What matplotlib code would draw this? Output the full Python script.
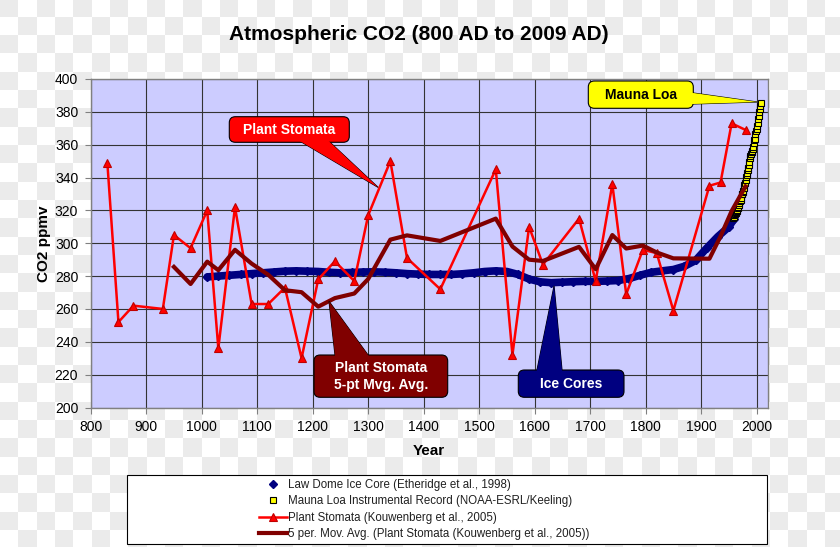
import numpy as np
import matplotlib
matplotlib.use("Agg")
import matplotlib.pyplot as plt
from matplotlib.patches import FancyBboxPatch, Polygon, Rectangle

plt.rcParams['font.family'] = ['Liberation Sans', 'DejaVu Sans']

# ---------------- data ----------------
stomata_years = [830, 850, 877, 930, 950, 980, 1010, 1030, 1060, 1090, 1120, 1150,
                 1180, 1210, 1240, 1275, 1300, 1340, 1370, 1430, 1530, 1560, 1590,
                 1615, 1680, 1710, 1740, 1765, 1795, 1820, 1850, 1915, 1935, 1955, 1980]
stomata_co2 = [349, 252, 262, 260, 305, 297, 320, 236, 322, 263, 263, 273,
               230, 278, 289, 277, 317, 350, 291, 272, 345, 232, 310,
               287, 315, 277, 336, 269, 296, 294, 259, 335, 337, 373, 369]

mavg_years = [950, 980, 1010, 1030, 1060, 1090, 1120, 1150, 1180, 1210, 1240, 1275,
              1300, 1340, 1370, 1430, 1530, 1560, 1590, 1615, 1680, 1710, 1740,
              1765, 1795, 1820, 1850, 1915, 1935, 1955, 1980]
mavg_co2 = [285.6, 275.2, 288.8, 283.6, 296.0, 287.6, 280.8, 271.4, 270.2, 261.4,
            266.6, 269.4, 278.2, 302.2, 304.8, 301.4, 315.0, 298.0, 290.0, 289.2,
            297.8, 284.2, 305.0, 296.8, 298.6, 294.4, 290.8, 290.6, 304.2, 319.6, 334.6]

ice_years = [1010, 1030, 1050, 1070, 1090, 1110, 1130, 1150, 1170, 1190, 1210, 1230,
             1250, 1270, 1290, 1310, 1330, 1350, 1370, 1390, 1410, 1430, 1450, 1470,
             1490, 1510, 1530, 1550, 1570, 1590, 1610, 1630, 1650, 1670, 1690, 1710,
             1730, 1750, 1770, 1790, 1810, 1830, 1850, 1870, 1890, 1910, 1930, 1950, 1960]
ice_co2 = [279.5, 280.0, 280.5, 281.0, 281.5, 282.0, 282.5, 283.0, 283.2, 283.0, 282.8, 282.3,
           282.0, 282.2, 282.5, 282.6, 282.4, 282.0, 281.5, 281.2, 281.0, 281.0, 281.0, 281.4,
           282.0, 282.8, 283.2, 282.8, 281.0, 278.2, 276.5, 276.0, 276.3, 276.6, 276.8, 276.8,
           277.0, 277.3, 278.5, 280.5, 282.3, 283.2, 284.0, 286.0, 289.5, 297.0, 304.0, 310.0, 315.0]

ml_years = list(range(1958, 2009))
ml_co2 = [315.3, 316.0, 316.9, 317.6, 318.5, 319.0, 319.6, 320.0, 321.4, 322.2,
          323.0, 324.6, 325.7, 326.3, 327.5, 329.7, 330.2, 331.1, 332.0, 333.8,
          335.4, 336.8, 338.7, 340.1, 341.4, 343.0, 344.6, 346.0, 347.4, 349.2,
          351.6, 353.1, 354.4, 355.6, 356.4, 357.1, 358.8, 360.8, 362.6, 363.7,
          366.7, 368.4, 369.6, 371.1, 373.2, 375.8, 377.5, 379.8, 381.9, 383.8, 385.6]

x_ticks = list(range(800, 2001, 100))
y_ticks = list(range(200, 401, 20))

labels = ["Law Dome Ice Core (Etheridge et al., 1998)",
          "Mauna Loa Instrumental Record (NOAA-ESRL/Keeling)",
          "Plant Stomata (Kouwenberg et al., 2005)",
          "5 per. Mov. Avg. (Plant Stomata (Kouwenberg et al., 2005))"]

# ---------------- figure ----------------
W, H = 840, 547
fig = plt.figure(figsize=(W / 100, H / 100), dpi=100)

# checkerboard background as in the reference
bg = fig.add_axes([0, 0, 1, 1], zorder=-10)
sq = 18.33
yy, xx = np.mgrid[0:H, 0:W] + 0.5
chk = ((np.floor((yy - 16.7) / sq) + np.floor(xx / sq)) % 2) == 1
img = np.where(chk[..., None], np.array([0.922, 0.922, 0.922]), np.array([1.0, 1.0, 1.0]))
bg.imshow(img, extent=[0, W, H, 0], aspect='auto', interpolation='nearest')
bg.set_xlim(0, W)
bg.set_ylim(H, 0)
bg.axis('off')

L, R, T, B = 90.7, 767.7, 79.0, 407.5
ax = fig.add_axes([L / W, 1 - B / H, (R - L) / W, (B - T) / H], zorder=1)
ax.set_facecolor('#ccccff')

ax.plot(ice_years, ice_co2, color='#000080', lw=5.5, zorder=3, solid_capstyle='round')
h_ice, = ax.plot(ice_years, ice_co2, ls='none', marker='D', ms=4.3, color='#000080',
                 mec='#000080', zorder=3, label=labels[0])
h_ml, = ax.plot(ml_years, ml_co2, ls='none', marker='s', ms=4.5, mfc='#ffff00',
                mec='#000000', mew=0.8, zorder=4, label=labels[1])
h_st, = ax.plot(stomata_years, stomata_co2, color='#ff0000', lw=1.8, marker='^', ms=6,
                mfc='#ff0000', mec='#c00000', mew=0.8, zorder=5, label=labels[2])
h_ma, = ax.plot(mavg_years, mavg_co2, color='#800000', lw=3.0, zorder=6, label=labels[3])

ax.set_xlim(800, 2020)
ax.set_ylim(200, 400)
ax.set_xticks(x_ticks)
ax.set_yticks(y_ticks)
ax.grid(True, color='#333333', lw=0.8)
ax.set_axisbelow(True)
for s in ax.spines.values():
    s.set_color('#808080')
    s.set_linewidth(1.0)
ax.tick_params(length=4, color='#808080', labelsize=10, pad=5, labelcolor='#000000')

fig.text(419 / W, 1 - 35 / H, "Atmospheric CO2 (800 AD to 2009 AD)", ha='center', va='center',
         fontsize=15, fontweight='bold')
fig.text(429 / W, 1 - 451 / H, "Year", ha='center', va='center', fontsize=11, fontweight='bold')
fig.text(44 / W, 1 - 244 / H, "CO2 ppmv", ha='center', va='center', rotation=90,
         fontsize=11, fontweight='bold')

# ---------------- callouts ----------------
aw, ah = R - L, B - T


def fx(px):
    return (px - L) / aw


def fy(py):
    return (B - py) / ah


def callout(box, base, tip_data, text, fc, tc, ec='#000000'):
    x0, x1, y0, y1 = fx(box[0]), fx(box[1]), fy(box[3]), fy(box[2])
    tip = ax.transLimits.transform(tip_data)
    b1 = np.array([fx(base[0][0]), fy(base[0][1])])
    b2 = np.array([fx(base[1][0]), fy(base[1][1])])
    wedge = [tip, b1, b2]
    ax.add_patch(Polygon(wedge, closed=True, fc=fc, ec=ec, lw=0.8, transform=ax.transAxes,
                         zorder=10, clip_on=False))
    ax.add_patch(FancyBboxPatch((x0, y0), x1 - x0, y1 - y0,
                                boxstyle="round,pad=0,rounding_size=0.009",
                                mutation_aspect=aw / ah, fc=fc, ec=ec, lw=0.8,
                                transform=ax.transAxes, zorder=11, clip_on=False))
    e1 = b1 + 0.12 * (b1 - tip)
    e2 = b2 + 0.12 * (b2 - tip)
    ax.add_patch(Polygon([tip, e1, e2], closed=True, fc=fc, ec='none', transform=ax.transAxes,
                         zorder=12, clip_on=False))
    ax.text((x0 + x1) / 2, (y0 + y1) / 2, text, transform=ax.transAxes, ha='center',
            va='center', color=tc, fontsize=10, fontweight='bold', zorder=13,
            linespacing=1.25)


callout((229.3, 349.3, 116.7, 142.3), ((302, 142.3), (330, 142.3)), (1318, 334),
        "Plant Stomata", '#ff0000', 'white')
callout((314, 447.7, 355, 397.3), ((335, 355), (368, 355)), (1229.5, 264.6),
        "Plant Stomata\n5-pt Mvg. Avg.", '#800000', 'white')
callout((518.3, 624, 370, 397.3), ((537, 370), (562, 370)), (1635, 274),
        "Ice Cores", '#000080', 'white')
callout((588.3, 693.3, 81, 108.3), ((693.3, 93), (693.3, 104)), (2001, 386),
        "Mauna Loa", '#ffff00', 'black')

# ---------------- legend ----------------
fig.add_artist(Rectangle((126.7 / W, 1 - 544 / H), (767 - 126.7) / W, (544 - 475) / H,
                         transform=fig.transFigure, fc='white', ec='#000000', lw=0.8, zorder=2))
leg = fig.legend(handles=[h_ice, h_ml, h_st, h_ma], labels=labels, loc='upper left',
                 bbox_to_anchor=(259 / W, 1 - 479 / H), frameon=False, fontsize=8.3,
                 handlelength=2.4, handletextpad=0.15, labelspacing=0.38, borderpad=0,
                 borderaxespad=0, numpoints=1)
leg.set_zorder(3)
for t in leg.get_texts():
    t.set_color('#202020')

fig.savefig("out.png", dpi=100)
